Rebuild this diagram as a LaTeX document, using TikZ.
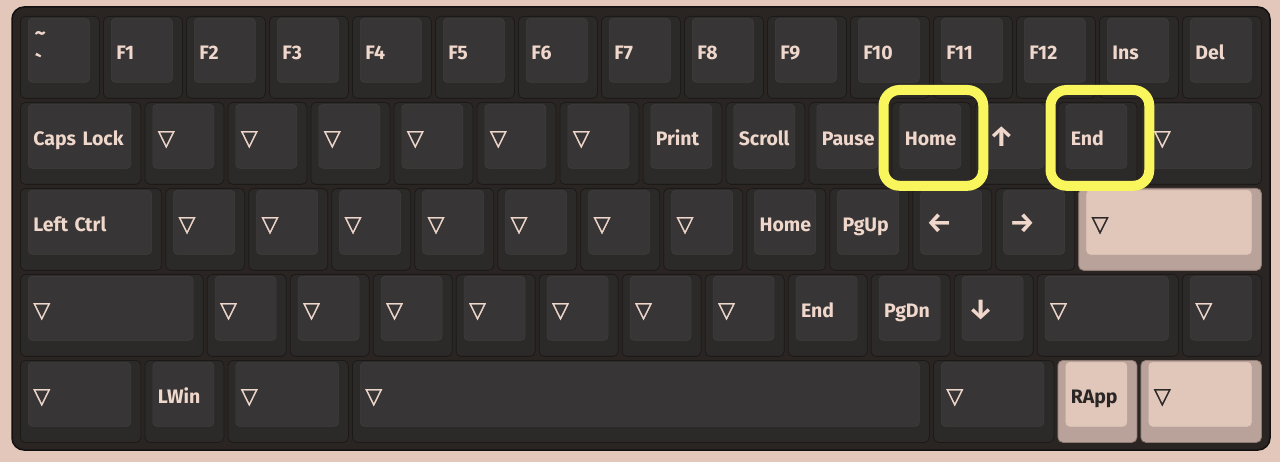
\documentclass[tikz,border=0pt]{standalone}
\usepackage{fontspec}
\setmainfont{Fira Sans}
\newfontfamily\symfont{DejaVu Sans}[FakeBold=1.2]
\usetikzlibrary{positioning}

\definecolor{bgpink}{HTML}{E3C7BB}
\definecolor{casefill}{HTML}{2A2523}
\definecolor{caseedge}{HTML}{121010}
\definecolor{keybase}{HTML}{2C2A29}
\definecolor{keytop}{HTML}{373535}
\definecolor{keytopedge}{HTML}{403D3C}
\definecolor{keyedge}{HTML}{1C1A19}
\definecolor{keytext}{HTML}{F0D7CC}
\definecolor{pinkbase}{HTML}{B9A29A}
\definecolor{pinktop}{HTML}{E1C6BA}
\definecolor{pinkedge}{HTML}{8E7A73}
\definecolor{pinktext}{HTML}{2A2626}
\definecolor{hiyellow}{HTML}{F9F55C}

\tikzset{
	darkbase/.style = {fill = keybase, draw = keyedge, line width = 0.8pt,
					   rounded corners = 5pt, minimum height = 82pt,
					   inner sep = 0pt},
	darktop/.style = {fill = keytop, draw = keytopedge, line width = 0.6pt,
					  rounded corners = 4pt,
					  minimum height = 64pt, inner xsep = 5pt, inner ysep = 0pt,
					  align = left, text = keytext, text height = 18pt,
					  text depth = 0pt, font = \fontsize{19.5}{22}\selectfont\bfseries},
	pinkbase/.style = {darkbase, fill = pinkbase, draw = pinkedge},
	pinktop/.style = {darktop, fill = pinktop, draw = pinktop, text = pinktext},
	hilite/.style = {draw = hiyellow, line width = 10pt, rounded corners = 16pt}
}

% one key: base, top and label
\newcommand{\kbkey}[6][dark]{%
	\pgfmathsetmacro{\kx}{20+83*(#3)}%
	\pgfmathsetmacro{\ky}{16+86*(#4)}%
	\pgfmathsetmacro{\kw}{83*(#5)-4}%
	\pgfmathsetmacro{\tw}{83*(#5)-32}%
	\node[#1base, minimum width = \kw pt, anchor = north west](#2) at (\kx, \ky){};
	\node[#1top, text width = \tw pt, anchor = north west
		   ](#2top) at ([shift = {(8, 2)}]#2.north west){#6};
}
\newcommand{\tri}{{\symfont\mdseries\fontsize{22}{22}\selectfont ▽}}
\newcommand{\arr}[1]{{\fontsize{28}{28}\selectfont\hspace{1pt}\raisebox{-1pt}{#1}}}

\begin{document}
\begin{tikzpicture}[x = 1pt, y = -1pt]
	\fill[bgpink] (0, 0) rectangle (1280, 462);
	\draw[fill = casefill, draw = caseedge, line width = 1.5pt,
		  rounded corners = 12pt] (12, 7) rectangle (1270, 450);

	% row 1
	\kbkey{tilde}{0}{0}{1}{}
	\node[text = keytext, font = \fontsize{22}{22}\selectfont\bfseries,
		  anchor = west](tildeup) at ([shift = {(3, -14)}]tildetop.west){\textasciitilde};
	\node[text = keytext, font = \fontsize{22}{22}\selectfont\bfseries,
		  anchor = west](tildedown) at ([shift = {(3, 12)}]tildetop.west){\textasciigrave};
	\foreach \i in {1, ..., 12}
		\kbkey{f\i}{\i}{0}{1}{F\i};
	\kbkey{ins}{13}{0}{1}{Ins}
	\kbkey{del}{14}{0}{1}{Del}

	% row 2
	\kbkey{caps}{0}{1}{1.5}{Caps Lock}
	\foreach \i in {1, ..., 6}
		\kbkey{rtwo\i}{\i+0.5}{1}{1}{\tri};
	\kbkey{print}{7.5}{1}{1}{Print}
	\kbkey{scroll}{8.5}{1}{1}{Scroll}
	\kbkey{pause}{9.5}{1}{1}{Pause}
	\kbkey{home}{10.5}{1}{1}{Home}
	\kbkey{up}{11.5}{1}{1}{\arr{↑}}
	\kbkey{end}{12.5}{1}{1}{End}
	\kbkey{rtwoend}{13.5}{1}{1.5}{\tri}

	% row 3
	\kbkey{lctrl}{0}{2}{1.75}{Left Ctrl}
	\foreach \i in {1, ..., 7}
		\kbkey{rthree\i}{\i+0.75}{2}{1}{\tri};
	\kbkey{hometwo}{8.75}{2}{1}{Home}
	\kbkey{pgup}{9.75}{2}{1}{PgUp}
	\kbkey{left}{10.75}{2}{1}{\arr{←}}
	\kbkey{right}{11.75}{2}{1}{\arr{→}}
	\kbkey[pink]{enter}{12.75}{2}{2.25}{\tri}

	% row 4
	\kbkey{rfourfirst}{0}{3}{2.25}{\tri}
	\foreach \i in {1, ..., 7}
		\kbkey{rfour\i}{\i+1.25}{3}{1}{\tri};
	\kbkey{endtwo}{9.25}{3}{1}{End}
	\kbkey{pgdn}{10.25}{3}{1}{PgDn}
	\kbkey{down}{11.25}{3}{1}{\arr{↓}}
	\kbkey{rfourwide}{12.25}{3}{1.75}{\tri}
	\kbkey{rfourlast}{14}{3}{1}{\tri}

	% row 5
	\kbkey{lfive}{0}{4}{1.5}{\tri}
	\kbkey{lwin}{1.5}{4}{1}{LWin}
	\kbkey{rfivea}{2.5}{4}{1.5}{\tri}
	\kbkey{space}{4}{4}{7}{\tri}
	\kbkey{rfiveb}{11}{4}{1.5}{\tri}
	\kbkey[pink]{rapp}{12.5}{4}{1}{RApp}
	\kbkey[pink]{rfivelast}{13.5}{4}{1.5}{\tri}

	% highlights
	\draw[hilite] ([shift = {(-8, -12)}]home.north west)
		rectangle ([shift = {(12, 1)}]home.south east);
	\draw[hilite] ([shift = {(-7, -12)}]end.north west)
		rectangle ([shift = {(12, 1)}]end.south east);
\end{tikzpicture}
\end{document}
